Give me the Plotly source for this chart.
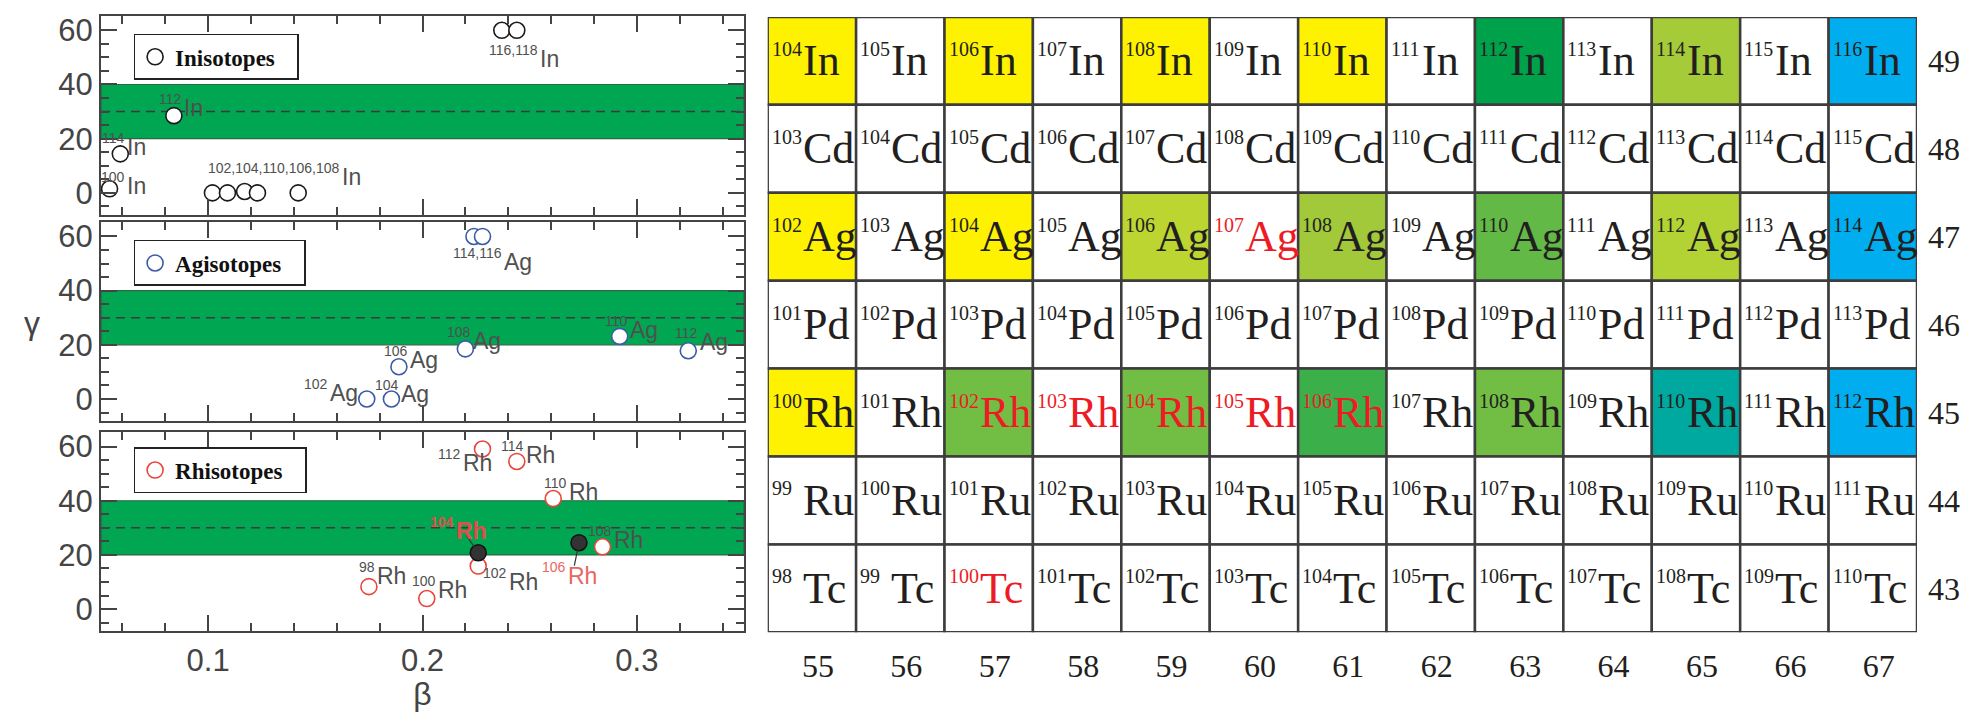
import plotly.graph_objects as go

W, H = 1964, 712
SANS = "Liberation Sans"
SERIF = "Liberation Serif"
AX = "#444444"
INK = "#231f20"

# ---------------- deformation parameters (beta, gamma) ----------------
in_mass = [100, 114, 112, 102, 104, 110, 106, 108, 116, 118]
in_beta = [0.054, 0.059, 0.084, 0.102, 0.109, 0.117, 0.123, 0.142, 0.237, 0.244]
in_gamma = [1.5, 14.4, 28.5, 0.0, 0.0, 0.5, 0.0, 0.0, 60.0, 60.0]

ag_mass = [102, 104, 106, 108, 110, 112, 114, 116]
ag_beta = [0.174, 0.1855, 0.189, 0.220, 0.292, 0.324, 0.224, 0.228]
ag_gamma = [0.0, 0.0, 11.9, 18.5, 23.1, 17.8, 60.0, 60.0]

rh_mass = [98, 100, 102, 108, 110, 112, 114]
rh_beta = [0.175, 0.202, 0.226, 0.284, 0.261, 0.228, 0.244]
rh_gamma = [8.3, 3.9, 15.9, 23.0, 40.8, 59.1, 54.5]

rh_hl_mass = [104, 106]
rh_hl_beta = [0.226, 0.273]
rh_hl_gamma = [20.8, 24.5]

# mass-number text, isotope it belongs to, pixel offset (dx, dy) of the
# junction between mass number and element symbol relative to the point
in_tags = [("100", 100, 17, 3), ("114", 114, 7, 7), ("112", 112, 10, 8),
           ("102,104,110,106,108", 102, 130, 16), ("116,118", 116, 38, -29)]
ag_tags = [("102", 102, -37, 6), ("104", 104, 10, 5), ("106", 106, 11, 7),
           ("108", 108, 8, 8), ("110", 110, 10, 6), ("112", 112, 12, 9),
           ("114,116", 114, 30, -26)]
rh_tags = [("98", 98, 8, 11), ("100", 100, 11, 9), ("102", 102, 31, -16),
           ("108", 108, 11, 7), ("110", 110, 16, 7), ("112", 112, -20, -14),
           ("114", 114, 9, 6)]
# highlighted Rh labels: text offset (dx, dy) and leader-line tail (lx, ly)
rh_callouts = [("104", 104, -22, 22, -13, -19, True),
               ("106", 106, -11, -33, -5, 25, False)]

# ---------------- chart of nuclides ----------------
chart_Z = [49, 48, 47, 46, 45, 44, 43]
chart_el = ["In", "Cd", "Ag", "Pd", "Rh", "Ru", "Tc"]
chart_N = list(range(55, 68))

YEL = "#fff200"
BLUE = "#00aeef"
cell_fill = {
    "104In": YEL, "106In": YEL, "108In": YEL, "110In": YEL,
    "112In": "#00a14b", "114In": "#a5cb39", "116In": BLUE,
    "102Ag": YEL, "104Ag": YEL, "106Ag": "#bcd530", "108Ag": "#a2c93a",
    "110Ag": "#62b946", "112Ag": "#b3d334", "114Ag": BLUE,
    "100Rh": YEL, "102Rh": "#72bd44", "104Rh": "#72bd44", "106Rh": "#3bb04a",
    "108Rh": "#72bd44", "110Rh": "#00a99f", "112Rh": BLUE,
}
red_text = {"107Ag", "102Rh", "103Rh", "104Rh", "105Rh", "106Rh", "100Tc"}

# ---------------- layout geometry ----------------
left_dom = [101 / W, 744 / W]
panel_px = [(13, 213), (220, 420), (431, 631)]
y_doms = [[1 - b / H, 1 - t / H] for t, b in panel_px]
legend_top = [31, 238, 446]
BETA_RANGE = [0.05, 0.35]
GAMMA_RANGE = [-8.2, 65.3]
PAD = "\u00a0" * 3  # right padding inside the legend boxes

fig = go.Figure()

panels = [
    ("In", "Inisotopes", in_mass, in_beta, in_gamma, "#1a1a1a", in_tags),
    ("Ag", "Agisotopes", ag_mass, ag_beta, ag_gamma, "#3b5ba5", ag_tags),
    ("Rh", "Rhisotopes", rh_mass, rh_beta, rh_gamma, "#e8453c", rh_tags),
]

annotations = []
shapes = []


def isotope_label(x, y, xref, yref, mass_txt, sym, dx, dy, color, bold=False):
    """Mass number (small, raised) ending at the junction, symbol starting there."""
    weight = "bold" if bold else "normal"
    annotations.append(dict(
        x=x, y=y, xref=xref, yref=yref, text=mass_txt, showarrow=False,
        xanchor="right", yanchor="middle", xshift=dx, yshift=dy + 9,
        font=dict(family=SANS, size=14, color=color, weight=weight)))
    annotations.append(dict(
        x=x, y=y, xref=xref, yref=yref, text=sym, showarrow=False,
        xanchor="left", yanchor="middle", xshift=dx - 2, yshift=dy,
        font=dict(family=SANS, size=23, color=color, weight=weight)))


for i, (el, name, mass, beta, gamma, col, tags) in enumerate(panels, start=1):
    sfx = "" if i == 1 else str(i)
    leg = "legend" if i == 1 else f"legend{i}"
    fig.add_trace(go.Scatter(
        x=beta, y=gamma, mode="markers", name=name + PAD, legend=leg,
        xaxis=f"x{sfx}", yaxis=f"y{sfx}",
        marker=dict(symbol="circle", size=16, color="white",
                    line=dict(color=col, width=1.6)),
        hoverinfo="skip",
    ))
    # green band 20-40 and dashed centre line
    shapes.append(dict(type="rect", xref=f"x{sfx} domain", yref=f"y{sfx}",
                       x0=0, x1=1, y0=20, y1=40, fillcolor="#00a651",
                       line=dict(color="#2b6a3c", width=1.2), layer="below"))
    shapes.append(dict(type="line", xref=f"x{sfx} domain", yref=f"y{sfx}",
                       x0=0, x1=1, y0=30, y1=30, layer="below",
                       line=dict(color="#3b3b3b", width=1.5, dash="9px,6px")))
    for sup, m, dx, dy in tags:
        k = mass.index(m)
        isotope_label(beta[k], gamma[k], f"x{sfx}", f"y{sfx}", sup, el, dx, dy, "#505050")
    fig.update_layout(**{
        f"xaxis{sfx}": dict(
            domain=left_dom, range=BETA_RANGE, anchor=f"y{sfx}",
            showline=True, linecolor=AX, linewidth=2, mirror="allticks",
            ticks="inside", ticklen=16, tickwidth=1.5, tickcolor=AX,
            tick0=0, dtick=0.1, tickformat=".1f",
            minor=dict(ticks="inside", ticklen=8, tickwidth=1.5, tickcolor=AX,
                       tick0=0, dtick=0.02),
            showgrid=False, zeroline=False, showticklabels=(i == 3),
            tickfont=dict(family=SANS, size=31, color=AX), fixedrange=True,
        ),
        f"yaxis{sfx}": dict(
            domain=y_doms[i - 1], range=GAMMA_RANGE, anchor=f"x{sfx}",
            showline=True, linecolor=AX, linewidth=2, mirror="allticks",
            ticks="inside", ticklen=16, tickwidth=1.5, tickcolor=AX,
            tick0=0, dtick=20,
            minor=dict(ticks="inside", ticklen=8, tickwidth=1.5, tickcolor=AX,
                       tick0=0, dtick=5),
            showgrid=False, zeroline=False,
            tickfont=dict(family=SANS, size=31, color=AX), fixedrange=True,
        ),
        leg: dict(
            x=133.6 / W, y=1 - legend_top[i - 1] / H, xanchor="left", yanchor="top",
            bgcolor="white", bordercolor="#222222", borderwidth=1.5,
            font=dict(family=SERIF, size=23, color="#111111", weight="bold"),
            itemclick=False, itemdoubleclick=False,
        ),
    })

# filled Rh points
fig.add_trace(go.Scatter(
    x=rh_hl_beta, y=rh_hl_gamma, mode="markers", showlegend=False,
    xaxis="x3", yaxis="y3", hoverinfo="skip",
    marker=dict(symbol="circle", size=16, color="#333333",
                line=dict(color="#111111", width=1.5)),
))
for sup, m, dx, dy, lx, ly, bold in rh_callouts:
    k = rh_hl_mass.index(m)
    # leader line from the label to the point
    annotations.append(dict(
        x=rh_hl_beta[k], y=rh_hl_gamma[k], xref="x3", yref="y3", text=" ",
        showarrow=True, arrowhead=0, arrowwidth=1.2, arrowcolor="#333333",
        ax=lx, ay=ly, standoff=7, font=dict(size=1)))
    isotope_label(rh_hl_beta[k], rh_hl_gamma[k], "x3", "y3", sup, "Rh", dx, dy,
                  "#e0504a" if bold else "#e8675e", bold)

# gamma axis label
annotations.append(dict(x=22 / W, y=1 - 321.5 / H, xref="paper", yref="paper",
                        text="γ", showarrow=False,
                        font=dict(family=SANS, size=32, color=AX)))

# ---------------- nuclide cells ----------------
for z, el in zip(chart_Z, chart_el):
    for n in chart_N:
        a = z + n
        key = f"{a}{el}"
        shapes.append(dict(type="rect", xref="x4", yref="y4",
                           x0=n - 0.5, x1=n + 0.5, y0=z - 0.5, y1=z + 0.5,
                           fillcolor=cell_fill.get(key, "white"),
                           line=dict(color="#3d3d3d", width=2.5), layer="below"))
        tc = "#ed1c24" if key in red_text else INK
        annotations.append(dict(x=n - 0.5, y=z, xref="x4", yref="y4", text=str(a),
                                showarrow=False, xanchor="left", yanchor="middle",
                                xshift=2, yshift=12,
                                font=dict(family=SERIF, size=20, color=tc)))
        annotations.append(dict(x=n - 0.5, y=z, xref="x4", yref="y4", text=el,
                                showarrow=False, xanchor="left", yanchor="middle",
                                xshift=33, yshift=0,
                                font=dict(family=SERIF, size=44, color=tc)))

fig.update_layout(
    xaxis4=dict(domain=[767.7 / W, 1917 / W], range=[54.5, 67.5], anchor="y4",
                tickvals=chart_N, ticks="", showline=False, showgrid=False,
                zeroline=False, ticklabelstandoff=12, ticklabelshift=6,
                tickfont=dict(family=SERIF, size=32, color=INK), fixedrange=True),
    yaxis4=dict(domain=[1 - 632 / H, 1 - 14 / H], range=[42.5, 49.5], anchor="x4",
                side="right", tickvals=chart_Z, ticks="", showline=False,
                showgrid=False, zeroline=False, ticklabelstandoff=10,
                tickfont=dict(family=SERIF, size=32, color=INK), fixedrange=True),
)

fig.update_layout(
    xaxis3_title=dict(text="β", font=dict(family=SANS, size=32, color=AX), standoff=6),
    width=W, height=H, autosize=False,
    margin=dict(l=0, r=0, t=0, b=0),
    paper_bgcolor="white", plot_bgcolor="white",
    shapes=shapes, annotations=annotations,
)

fig.write_html("out.html")
